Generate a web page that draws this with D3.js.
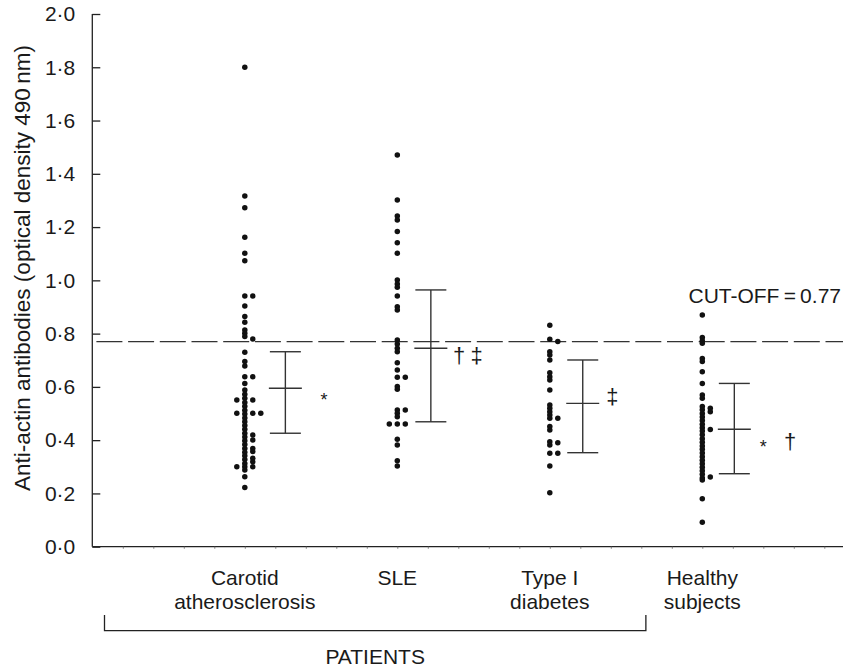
<!DOCTYPE html>
<html><head><meta charset="utf-8">
<script src="https://cdn.jsdelivr.net/npm/d3@7"></script>
<style>
body{margin:0;background:#fff}
svg{display:block}
text{font-family:"Liberation Sans",Arial,Helvetica,sans-serif;fill:#1a1a1a}
</style>
</head><body>
<svg id="c" width="843" height="669"></svg>
<script>
// ---------------- data ----------------
const groups = ["Carotid atherosclerosis", "SLE", "Type I diabetes", "Healthy subjects"];
const groupLabels = [["Carotid", "atherosclerosis"], ["SLE"], ["Type I", "diabetes"], ["Healthy", "subjects"]];
const yTicks = [0, 0.2, 0.4, 0.6, 0.8, 1.0, 1.2, 1.4, 1.6, 1.8, 2.0];
const cutoff = 0.77;
const cutoffLabel = "CUT-OFF\u2009=\u20090.77";
const bracketLabel = "PATIENTS";
const yTitle = "Anti-actin antibodies (optical density 490\u2009nm)";

// points: [value, side column]
const carotid = [
  [1.80,0],[1.317,0],[1.273,0],[1.162,0],[1.102,0],[1.074,0],[0.941,0],[0.904,0],[0.864,0],[0.843,0],
  [0.814,0],[0.801,0],[0.789,0],[0.730,0],[0.695,0],[0.678,0],[0.638,0],[0.613,0],[0.588,0],[0.572,0],
  [0.557,0],[0.541,0],[0.527,0],[0.512,0],[0.498,0],[0.483,0],[0.469,0],[0.455,0],[0.441,0],[0.426,0],
  [0.412,0],[0.398,0],[0.384,0],[0.369,0],[0.355,0],[0.341,0],[0.327,0],[0.312,0],[0.300,0],[0.288,0],
  [0.263,0],[0.222,0],
  [0.941,1],[0.780,1],[0.638,1],[0.551,1],[0.501,1],[0.419,1],[0.401,1],[0.369,1],[0.357,1],[0.332,1],
  [0.319,1],[0.300,1],
  [0.501,2],
  [0.551,-1],[0.501,-1],[0.300,-1]
];
const sle = [
  [1.471,0],[1.302,0],[1.242,0],[1.227,0],[1.183,0],[1.141,0],[1.102,0],[1.001,0],[0.986,0],[0.974,0],
  [0.941,0],[0.901,0],[0.889,0],[0.776,0],[0.761,0],[0.745,0],[0.732,0],[0.691,0],[0.663,0],[0.636,0],
  [0.601,0],[0.591,0],[0.513,0],[0.501,0],[0.488,0],[0.461,0],[0.403,0],[0.382,0],[0.323,0],[0.303,0],
  [0.636,1],[0.513,1],[0.461,1],
  [0.461,-1]
];
const diabetes = [
  [0.831,0],[0.779,0],[0.732,0],[0.720,0],[0.701,0],[0.653,0],[0.638,0],[0.626,0],[0.588,0],[0.532,0],
  [0.520,0],[0.507,0],[0.494,0],[0.482,0],[0.451,0],[0.438,0],[0.394,0],[0.382,0],[0.351,0],[0.303,0],
  [0.203,0],
  [0.770,1],[0.482,1],[0.390,1],[0.351,1]
];
const healthy = [
  [0.870,0],[0.785,0],[0.773,0],[0.764,0],[0.707,0],[0.695,0],[0.657,0],[0.613,0],[0.570,0],[0.557,0],
  [0.526,0],[0.514,0],[0.500,0],[0.487,0],[0.474,0],[0.460,0],[0.447,0],[0.434,0],[0.420,0],[0.405,0],
  [0.392,0],[0.378,0],[0.366,0],[0.352,0],[0.338,0],[0.325,0],[0.311,0],[0.298,0],[0.285,0],[0.272,0],
  [0.258,0],[0.250,0],[0.180,0],[0.092,0],
  [0.520,1],[0.507,1],[0.440,1],[0.262,1]
];
const seriesPoints = [carotid, sle, diabetes, healthy];
const means = [0.595, 0.745, 0.538, 0.441];
const upper = [0.732, 0.964, 0.701, 0.613];
const lower = [0.426, 0.469, 0.353, 0.274];
const marks = [["*"], ["\u2020", "\u2021"], ["\u2021"], ["*", "\u2020"]];
const markValues = [0.567, 0.713, 0.558, 0.389];

// ---------------- layout ----------------
const W = 843, H = 669;
const groupPos = [5, 10, 15, 20];          // x-units along the axis
const barOffset = [1.33, 1.1, 1.08, 1.05];   // error bar offset (x-units)
const markOffsets = [[2.6], [2.03, 2.6], [2.05], [2.0, 2.88]];
const colStep = 0.262;
const FS = 21;

const svg = d3.select("#c");
const x = d3.scaleLinear().domain([0, 24.6]).range([92.3, 842.6]);
const y = d3.scaleLinear().domain([0, 2]).range([546.7, 14]);
const ink = "#222";

// y axis
const yAxis = d3.axisLeft(y).tickValues(yTicks).tickSize(-8).tickPadding(17)
  .tickFormat(d => d3.format(".1f")(d).replace(".", "\u00b7"));
const gy = svg.append("g").attr("transform", `translate(${x(0)},0)`).call(yAxis);
gy.select(".domain").attr("stroke", ink).attr("stroke-width", 1.3).attr("d", `M0,${y(2)}V${y(0)}`);
gy.selectAll(".tick line").attr("stroke", ink).attr("stroke-width", 1.3);
gy.selectAll(".tick text").attr("font-size", FS).attr("font-family", "Liberation Sans, Arial, sans-serif").attr("fill", "#1a1a1a");

// x axis (minor ticks only)
const xAxis = d3.axisBottom(x).tickValues(d3.range(1, 25)).tickSize(2).tickFormat("");
const gx = svg.append("g").attr("transform", `translate(0,${y(0)})`).call(xAxis);
gx.select(".domain").attr("stroke", ink).attr("stroke-width", 1.3).attr("d", `M${x(0)},0H${W}`);
gx.selectAll(".tick line").attr("stroke", "#777").attr("stroke-width", 1);

// y title
svg.append("text")
  .attr("transform", `translate(30,268) rotate(-90)`)
  .attr("text-anchor", "middle").attr("font-size", 22.5).text(yTitle);

// cut-off line
svg.append("line")
  .attr("x1", x(0)).attr("x2", W).attr("y1", y(cutoff)).attr("y2", y(cutoff))
  .attr("stroke", "#333").attr("stroke-width", 1.3)
  .attr("stroke-dasharray", "26,5.7").attr("stroke-dashoffset", -4.1);
svg.append("text").attr("x", 841).attr("y", y(cutoff) - 39)
  .attr("text-anchor", "end").attr("font-size", FS).text(cutoffLabel);

// points
seriesPoints.forEach((pts, i) => {
  svg.append("g").selectAll("circle").data(pts).join("circle")
    .attr("cx", d => x(groupPos[i] + d[1] * colStep))
    .attr("cy", d => y(d[0]))
    .attr("r", 2.75)
    .attr("fill", "#111");
});

// error bars
groups.forEach((g, i) => {
  const cx = x(groupPos[i] + barOffset[i]);
  const gb = svg.append("g").attr("stroke", "#333").attr("stroke-width", 1.4);
  gb.append("line").attr("x1", cx).attr("x2", cx).attr("y1", y(upper[i])).attr("y2", y(lower[i]));
  [upper[i], lower[i]].forEach(v => gb.append("line").attr("x1", cx - 15.5).attr("x2", cx + 15.5).attr("y1", y(v)).attr("y2", y(v)));
  gb.append("line").attr("x1", cx - 16.5).attr("x2", cx + 16.5).attr("y1", y(means[i])).attr("y2", y(means[i]));
  // significance marks
  marks[i].forEach((m, j) => {
    const isStar = m === "*";
    const fs = isStar ? 18 : 22;
    const base = y(markValues[i]) + (isStar ? 0.575 * fs : 0.27 * fs);
    svg.append("text").attr("x", x(groupPos[i] + markOffsets[i][j])).attr("y", base)
      .attr("text-anchor", "middle").attr("font-size", fs).text(m);
  });
  // category labels
  groupLabels[i].forEach((t, k) => {
    svg.append("text").attr("x", x(groupPos[i])).attr("y", 585 + k * 24)
      .attr("text-anchor", "middle").attr("font-size", FS).text(t);
  });
});

// patients bracket
const bx1 = x(0.4), bx2 = x(18.15);
svg.append("path").attr("d", `M${bx1},615V630.7H${bx2}V615`)
  .attr("fill", "none").attr("stroke", ink).attr("stroke-width", 1.3);
svg.append("text").attr("x", (bx1 + bx2) / 2).attr("y", 664)
  .attr("text-anchor", "middle").attr("font-size", FS).text(bracketLabel);
</script>
</body></html>
